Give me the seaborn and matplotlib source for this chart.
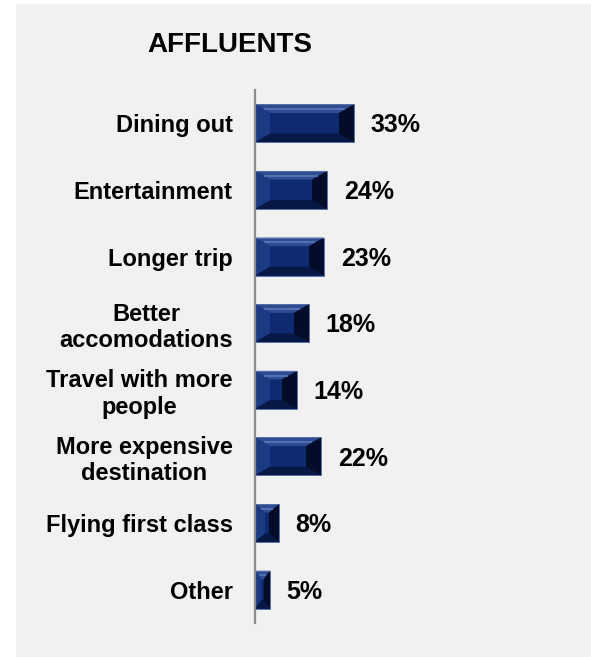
import matplotlib
matplotlib.use("Agg")
import matplotlib.pyplot as plt
from matplotlib.patches import Polygon, Rectangle
import pandas as pd
import seaborn as sns

# Survey results
title = "AFFLUENTS"
categories = [
    "Dining out",
    "Entertainment",
    "Longer trip",
    "Better\naccomodations",
    "Travel with more\npeople",
    "More expensive\ndestination",
    "Flying first class",
    "Other",
]
values = [33, 24, 23, 18, 14, 22, 8, 5]

df = pd.DataFrame({"category": categories, "share": values})

sns.set_theme(style="white")
plt.rcParams["font.family"] = ["Liberation Sans", "DejaVu Sans"]
plt.rcParams["font.weight"] = "bold"

W, H, DPI = 591, 657, 100
fig = plt.figure(figsize=(W / DPI, H / DPI), dpi=DPI, facecolor="white")

# light grey panel behind the chart
fig.patches.append(Rectangle((16 / W, 0), 1 - 16 / W, 1 - 4 / H,
                             transform=fig.transFigure, facecolor="#f1f1f1",
                             edgecolor="none", zorder=-10))

ax = fig.add_axes([255 / W, 1 - 623 / H, 300 / W, (623 - 90) / H])
ax.set_facecolor("none")
ax.set_zorder(2)

FACE = "#0e2a70"
sns.barplot(data=df, x="share", y="category", orient="h", ax=ax,
            color=FACE, saturation=1, width=0.57, edgecolor="#5d74a8",
            linewidth=0.6)

ax.set_xlim(0, 100)
ax.set_ylim(len(categories) - 0.5, -0.5)

# bevelled look on each bar, built from the bar's own geometry
for patch in list(ax.patches):
    x0, y0 = patch.get_x(), patch.get_y()
    w, h = patch.get_width(), patch.get_height()
    x1, y1 = x0 + w, y0 + h
    yt, yb = min(y0, y1), max(y0, y1)
    bx = min(5.0, w * 0.42)
    by = 0.13
    inner = [(x0 + bx, yt + by), (x1 - bx, yt + by), (x1 - bx, yb - by), (x0 + bx, yb - by)]
    top = [(x0, yt), (x1, yt), inner[1], inner[0]]
    bottom = [(x0, yb), (x1, yb), inner[2], inner[3]]
    left = [(x0, yt), inner[0], inner[3], (x0, yb)]
    right = [(x1, yt), inner[1], inner[2], (x1, yb)]
    for pts, col in [(top, "#2e4d93"), (left, "#1c3a84"),
                     (bottom, "#071844"), (right, "#030c28")]:
        ax.add_patch(Polygon(pts, closed=True, facecolor=col,
                             edgecolor="none", zorder=3))
    # highlight streak on the top bevel
    ax.plot([x0 + bx * 0.6, x1 - bx * 0.6], [yt + by * 0.55, yt + by * 0.55],
            color="#5a78b8", lw=1.2, zorder=4, solid_capstyle="butt")
    ax.add_patch(Rectangle((x0, yt), w, yb - yt, facecolor="none",
                           edgecolor="#5d74a8", lw=0.6, zorder=5))

# value labels
for i, v in enumerate(values):
    ax.annotate(f"{v}%", xy=(v, i), xytext=(12, -1.5), textcoords="offset points",
                ha="left", va="center", fontsize=18, fontweight="bold",
                color="black")

ax.set_xlabel("")
ax.set_ylabel("")
ax.set_xticks([])
ax.tick_params(axis="y", length=0, pad=16)
for lab in ax.get_yticklabels():
    lab.set_fontsize(17)
    lab.set_fontweight("bold")
    lab.set_color("black")
    lab.set_multialignment("center")
    lab.set_linespacing(1.18)

for side in ["top", "right", "bottom"]:
    ax.spines[side].set_visible(False)
ax.spines["left"].set_color("#8c8c8c")
ax.spines["left"].set_linewidth(1.6)
ax.spines["left"].set_zorder(6)

fig.text(230 / W, 1 - 45 / H, title, ha="center", va="center",
         fontsize=20, fontweight="bold", color="black")

fig.savefig("out.png", dpi=DPI, facecolor="white")
